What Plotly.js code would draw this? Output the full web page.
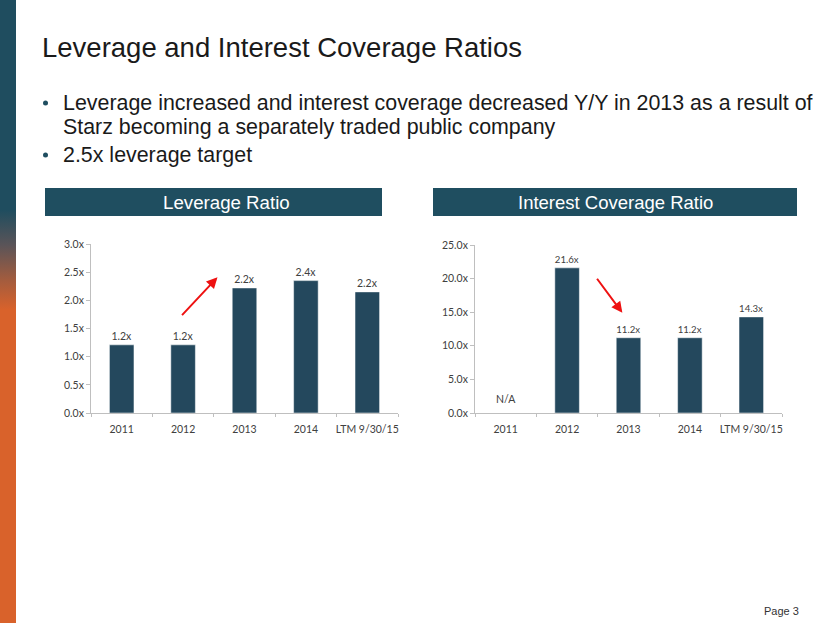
<!DOCTYPE html>
<html>
<head>
<meta charset="utf-8">
<script src="https://cdn.plot.ly/plotly-3.0.1.min.js"></script>
<style>
  html, body { margin: 0; padding: 0; background: #ffffff; }
  #wrap { position: relative; width: 830px; height: 623px; overflow: hidden; }
  /* left decorative strip: teal fading into orange */
  #strip {
    position: absolute; left: 0; top: 0; width: 16px; height: 623px;
    background: linear-gradient(to bottom, #1f4d5f 0px, #1f4d5f 210px, #5a5458 245px, #a35c3e 280px, #d9622b 310px, #d9622b 623px);
  }
  #chart { position: absolute; left: 0; top: 0; width: 830px; height: 623px; }
</style>
</head>
<body>
<div id="wrap">
  <div id="strip"></div>
  <div id="chart"></div>
</div>
<script>
  // -- Data -------------------------------------------------------------------
  var categories     = ['2011', '2012', '2013', '2014', 'LTM 9/30/15'];
  var leverage       = [1.21, 1.21, 2.22, 2.35, 2.15];
  var leverageLabels = ['1.2x', '1.2x', '2.2x', '2.4x', '2.2x'];
  var coverage       = [null, 21.6, 11.2, 11.2, 14.3];
  var coverageLabels = ['N/A', '21.6x', '11.2x', '11.2x', '14.3x'];

  var slideTitle = 'Leverage and Interest Coverage Ratios';
  var bullets = [
    'Leverage increased and interest coverage decreased Y/Y in 2013 as a result of',
    'Starz becoming a separately traded public company',
    '2.5x leverage target'
  ];

  // -- Theme ------------------------------------------------------------------
  var W = 830, H = 623;
  var BAR   = '#24485d';
  var HEAD  = '#1f4e60';
  var AXIS  = '#bfbfbf';
  var TICK  = '#404040';
  var TEXT  = '#1a1a1a';
  var SANS  = '"Liberation Sans", Arial, sans-serif';
  var SMALL = 'Lato, "Open Sans", sans-serif';

  // pixel -> paper helpers
  function px(x) { return x / W; }
  function py(y) { return 1 - y / H; }

  function valueAxis(domTop, domBot, maxV, step, anchor) {
    return {
      domain: [py(domBot), py(domTop)],
      range: [0, maxV],
      dtick: step,
      tickformat: '.1f',
      ticksuffix: 'x',
      showgrid: false,
      zeroline: false,
      showline: true,
      linecolor: AXIS,
      linewidth: 1,
      ticks: 'outside',
      ticklen: 4,
      tickcolor: AXIS,
      tickfont: { family: SMALL, size: 10.5, color: TICK },
      anchor: anchor,
      fixedrange: true
    };
  }

  function catAxis(left, right, anchor) {
    return {
      domain: [px(left), px(right)],
      type: 'category',
      showgrid: false,
      showline: true,
      linecolor: AXIS,
      linewidth: 1,
      ticks: 'outside',
      tickson: 'boundaries',
      ticklen: 3,
      tickcolor: AXIS,
      tickangle: 0,
      ticklabelstandoff: 6,
      tickfont: { family: SMALL, size: 10.5, color: TICK },
      anchor: anchor,
      fixedrange: true
    };
  }

  function barTrace(y, labels, xa, ya) {
    return {
      type: 'bar',
      x: categories,
      y: y,
      text: labels,
      textposition: 'outside',
      textfont: { family: SMALL, size: 10.5, color: TICK },
      cliponaxis: false,
      width: 0.4,
      marker: { color: BAR, line: { color: '#ffffff', width: 0.5 } },
      xaxis: xa,
      yaxis: ya,
      hoverinfo: 'skip',
      showlegend: false
    };
  }

  var traces = [
    barTrace(leverage, leverageLabels, 'x', 'y'),
    barTrace(coverage, coverage.map(function (v, i) { return v === null ? '' : coverageLabels[i]; }), 'x2', 'y2')
  ];

  // -- Text & decoration ------------------------------------------------------
  var annotations = [
    { text: slideTitle, xref: 'paper', yref: 'paper', x: px(40), y: py(48),
      xanchor: 'left', yanchor: 'middle', showarrow: false,
      font: { family: SANS, size: 27.5, color: TEXT } },
    { text: bullets[0], xref: 'paper', yref: 'paper', x: px(61), y: py(103),
      xanchor: 'left', yanchor: 'middle', showarrow: false,
      font: { family: SANS, size: 21.4, color: TEXT } },
    { text: bullets[1], xref: 'paper', yref: 'paper', x: px(61), y: py(127),
      xanchor: 'left', yanchor: 'middle', showarrow: false,
      font: { family: SANS, size: 21.4, color: TEXT } },
    { text: bullets[2], xref: 'paper', yref: 'paper', x: px(61), y: py(155),
      xanchor: 'left', yanchor: 'middle', showarrow: false,
      font: { family: SANS, size: 21.4, color: TEXT } },
    { text: 'Leverage Ratio', xref: 'paper', yref: 'paper', x: px(226), y: py(202),
      xanchor: 'center', yanchor: 'middle', showarrow: false,
      font: { family: SANS, size: 18.7, color: '#ffffff' } },
    { text: 'Interest Coverage Ratio', xref: 'paper', yref: 'paper', x: px(615), y: py(202),
      xanchor: 'center', yanchor: 'middle', showarrow: false,
      font: { family: SANS, size: 18.5, color: '#ffffff' } },
    { text: 'Page 3', xref: 'paper', yref: 'paper', x: px(801), y: py(611),
      xanchor: 'right', yanchor: 'middle', showarrow: false,
      font: { family: SANS, size: 11, color: '#333333' } },
    // N/A label for the missing 2011 coverage value
    { text: coverageLabels[0], xref: 'x2', yref: 'y2', x: 0, y: 0,
      xanchor: 'center', yanchor: 'bottom', yshift: 6, showarrow: false,
      font: { family: SMALL, size: 10.5, color: TICK } },
    // red trend arrows
    { xref: 'x', yref: 'y', axref: 'x', ayref: 'y',
      x: 1.56, y: 2.41, ax: 0.96, ay: 1.71, text: '',
      showarrow: true, arrowhead: 2, arrowsize: 1.1, arrowwidth: 2, arrowcolor: '#ee1111' },
    { xref: 'x2', yref: 'y2', axref: 'x2', ayref: 'y2',
      x: 1.90, y: 14.9, ax: 1.47, ay: 20.2, text: '',
      showarrow: true, arrowhead: 2, arrowsize: 1.1, arrowwidth: 2, arrowcolor: '#ee1111' }
  ];

  var bulletY = [103, 155];
  var shapes = [
    { type: 'rect', xref: 'paper', yref: 'paper', x0: px(45), x1: px(382), y0: py(216), y1: py(188),
      fillcolor: HEAD, line: { width: 0 }, layer: 'below' },
    { type: 'rect', xref: 'paper', yref: 'paper', x0: px(433), x1: px(797), y0: py(216), y1: py(188),
      fillcolor: HEAD, line: { width: 0 }, layer: 'below' }
  ];
  bulletY.forEach(function (y) {
    shapes.push({ type: 'circle', xref: 'paper', yref: 'paper',
      x0: px(43), x1: px(48), y0: py(y + 2.5), y1: py(y - 2.5),
      fillcolor: HEAD, line: { width: 0 } });
  });

  var layout = {
    width: W,
    height: H,
    margin: { l: 0, r: 0, t: 0, b: 0 },
    paper_bgcolor: 'rgba(0,0,0,0)',
    plot_bgcolor: 'rgba(0,0,0,0)',
    showlegend: false,
    bargap: 0.6,
    xaxis:  catAxis(91, 398, 'y'),
    yaxis:  valueAxis(244, 413, 3.0, 0.5, 'x'),
    xaxis2: catAxis(475, 782, 'y2'),
    yaxis2: valueAxis(245, 413, 25.0, 5, 'x2'),
    annotations: annotations,
    shapes: shapes
  };

  Plotly.newPlot('chart', traces, layout, { displayModeBar: false, staticPlot: true });
</script>
</body>
</html>
